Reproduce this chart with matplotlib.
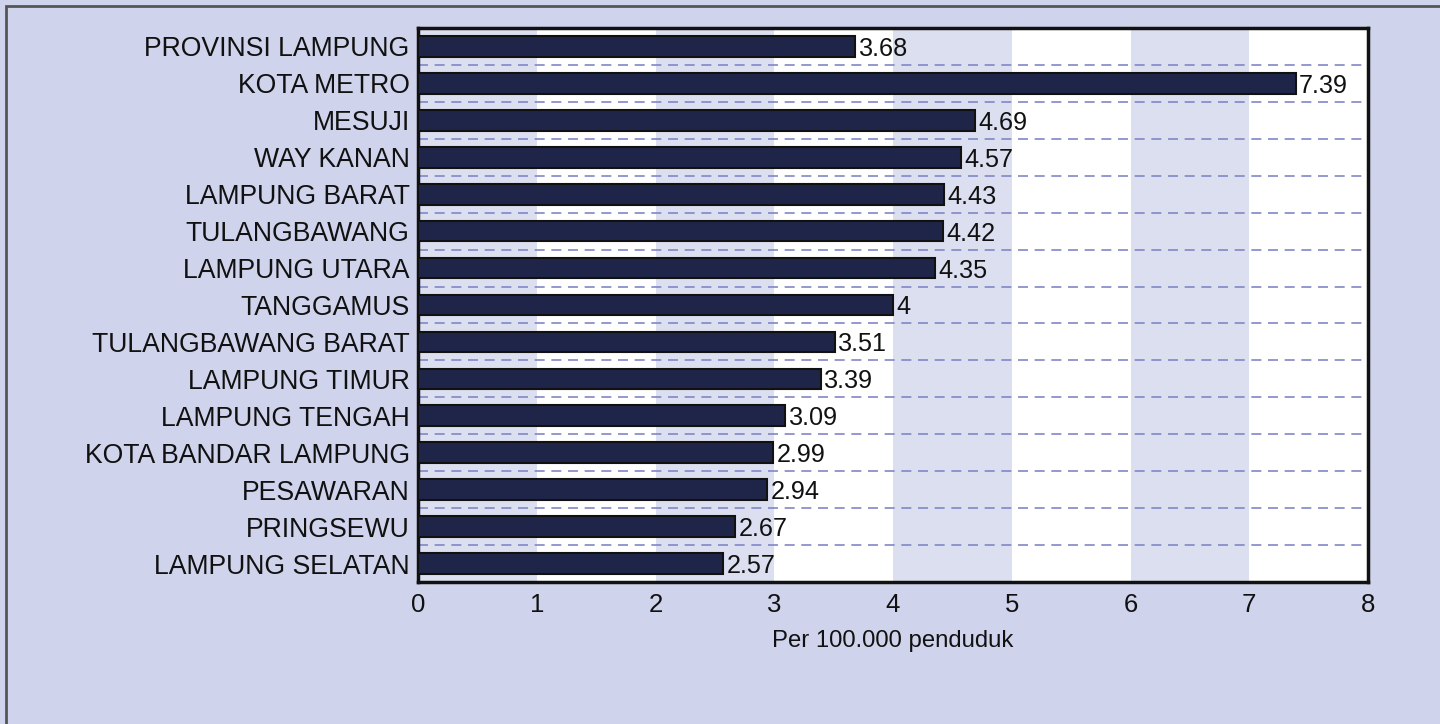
import matplotlib
matplotlib.use("Agg")
import matplotlib.pyplot as plt
from matplotlib.patches import Rectangle

categories = ["PROVINSI LAMPUNG", "KOTA METRO", "MESUJI", "WAY KANAN", "LAMPUNG BARAT",
              "TULANGBAWANG", "LAMPUNG UTARA", "TANGGAMUS", "TULANGBAWANG BARAT",
              "LAMPUNG TIMUR", "LAMPUNG TENGAH", "KOTA BANDAR LAMPUNG", "PESAWARAN",
              "PRINGSEWU", "LAMPUNG SELATAN"]
values = [3.68, 7.39, 4.69, 4.57, 4.43, 4.42, 4.35, 4, 3.51, 3.39, 3.09, 2.99, 2.94, 2.67, 2.57]
value_labels = ["3.68", "7.39", "4.69", "4.57", "4.43", "4.42", "4.35", "4", "3.51", "3.39",
                "3.09", "2.99", "2.94", "2.67", "2.57"]
xticks = [0, 1, 2, 3, 4, 5, 6, 7, 8]
xlabel = "Per 100.000 penduduk"

plt.rcParams['font.family'] = ['Liberation Sans', 'DejaVu Sans']

fig = plt.figure(figsize=(14.4, 7.24), dpi=100)
fig.patch.set_facecolor("#cfd3ec")
# figure frame (top/left border visible)
fig.patches.append(Rectangle((6/1440, -0.1), 1.2, (1 - 6/724) + 0.1, transform=fig.transFigure,
                             fill=False, edgecolor="#555555", linewidth=2, zorder=0))

ax = fig.add_axes([418/1440, 1 - 582/724, (1368 - 418)/1440, (582 - 28)/724])
ax.set_facecolor("white")

n = len(categories)
ypos = list(range(n))
ax.set_xlim(0, 8)
ax.set_ylim(n - 0.5, -0.5)

# alternating bands
for i in range(0, 8, 2):
    ax.axvspan(i, i + 1, color="#dcdff0", zorder=0, linewidth=0)

# dashed separators
for k in range(n - 1):
    ax.axhline(k + 0.5, color="#8088c6", linestyle=(0, (6, 4)), linewidth=1.2, zorder=1)

ax.barh(ypos, values, height=0.56, color="#1f2548", edgecolor="#111111", linewidth=1.5, zorder=3)
for y, v, lab in zip(ypos, values, value_labels):
    ax.text(v + 0.03, y, lab, va="center_baseline", ha="left", fontsize=18.2,
            color="#111111", zorder=4)

ax.set_yticks(ypos)
ax.set_yticklabels(categories, fontsize=19.2, color="#111111")
ax.set_xticks(xticks)
ax.set_xticklabels([str(t) for t in xticks], fontsize=18.5, color="#111111")
ax.tick_params(axis="y", length=0, pad=6)
ax.tick_params(axis="x", length=0, pad=8)
ax.set_xlabel(xlabel, fontsize=17.2, labelpad=9, color="#111111")

for s in ax.spines.values():
    s.set_linewidth(2.5)
    s.set_color("#111111")

fig.savefig("out.png", dpi=100, facecolor=fig.get_facecolor())
